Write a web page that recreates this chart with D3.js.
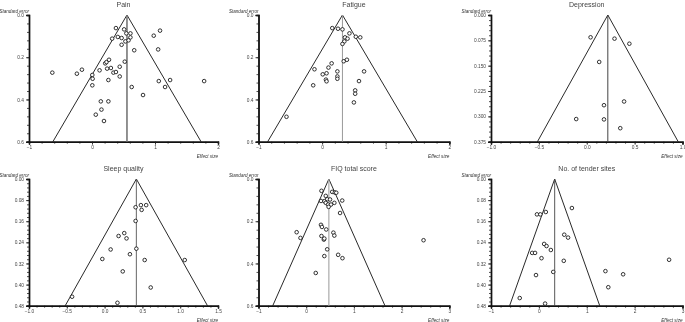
<!DOCTYPE html>
<html lang="en">
<head>
  <meta charset="UTF-8">
  <title>Funnel plots</title>
  <style>
    html, body { margin: 0; padding: 0; background: #fff; }
    svg { display: block; font-family: "Liberation Sans", Arial, sans-serif; filter: grayscale(1); }
  </style>
</head>
<body>
  <svg id="chart" width="685" height="322"></svg>

  <script src="https://d3js.org/d3.v7.min.js"></script>
  <script>
    // data (effect size, standard error)
    const titles = ['Pain', 'Fatigue', 'Depression', 'Sleep quality', 'FIQ total score', 'No. of tender sites'];
    const pooled = [0.555, 0.32, 0.22, 0.42, 0.475, 0.33];

    const painEffect = [-0.63,-0.24,-0.16,0.005,0.01,0.005,0.12,0.21,0.23,0.27,0.24,0.30,0.34,0.38,0.26,0.44,0.44,0.52,0.38,0.32,0.41,0.47,0.51,0.545,0.61,0.61,0.47,0.53,0.58,0.67,0.63,0.81,0.98,1.08,1.05,1.06,1.24,1.16,1.78,0.14,0.26,0.15,0.06,0.19];
    const painSE = [0.273,0.278,0.259,0.284,0.302,0.333,0.262,0.229,0.223,0.212,0.254,0.251,0.273,0.270,0.308,0.245,0.291,0.221,0.062,0.112,0.104,0.109,0.068,0.087,0.087,0.106,0.141,0.125,0.12,0.167,0.341,0.379,0.098,0.074,0.163,0.313,0.308,0.341,0.313,0.409,0.409,0.448,0.472,0.502];

    const fatigueEffect = [-0.56,-0.14,-0.12,0.01,0.07,0.06,0.07,0.10,0.15,0.24,0.24,0.24,0.34,0.39,0.16,0.25,0.32,0.43,0.36,0.40,0.35,0.32,0.53,0.60,0.66,0.58,0.52,0.52,0.50];
    const fatigueSE = [0.482,0.333,0.257,0.281,0.276,0.306,0.314,0.249,0.229,0.267,0.291,0.302,0.219,0.212,0.062,0.065,0.068,0.087,0.106,0.112,0.125,0.137,0.103,0.106,0.267,0.313,0.357,0.373,0.414];

    const depEffect = [0.04,0.29,0.445,0.13,0.39,0.18,-0.11,0.18,0.35];
    const depSE = [0.066,0.070,0.085,0.139,0.256,0.267,0.308,0.309,0.335];

    const sleepEffect = [0.41,0.48,0.55,0.49,0.41,0.185,0.26,0.29,0.08,0.42,0.335,-0.03,0.53,1.06,0.24,0.61,-0.43,0.17];
    const sleepSE = [0.107,0.099,0.099,0.117,0.159,0.216,0.205,0.225,0.267,0.264,0.285,0.303,0.307,0.307,0.350,0.411,0.446,0.469];

    const fiqEffect = [0.32,0.545,0.60,0.63,0.41,0.44,0.38,0.50,0.41,0.46,0.52,0.47,0.59,0.755,0.71,0.31,0.33,0.42,-0.20,-0.12,0.32,0.37,0.38,0.57,0.59,0.44,0.38,0.67,0.76,0.20,2.46,0.31];
    const fiqSE = [0.056,0.061,0.064,0.065,0.080,0.096,0.105,0.097,0.113,0.121,0.121,0.132,0.113,0.102,0.161,0.217,0.227,0.239,0.252,0.279,0.270,0.287,0.282,0.254,0.268,0.333,0.365,0.359,0.375,0.445,0.290,0.104];

    const tenderEffect = [-0.04,0.03,0.145,0.69,0.53,0.61,0.11,0.16,0.25,-0.14,-0.08,0.055,0.52,0.30,-0.06,1.39,1.76,2.72,1.45,-0.40,0.13];
    const tenderSE = [0.134,0.134,0.125,0.110,0.211,0.222,0.246,0.254,0.269,0.280,0.280,0.300,0.310,0.352,0.364,0.349,0.361,0.306,0.410,0.451,0.472];

    // axis ticks per panel
    const xTicks = [[-1,0,1,2], [-1,0,1,2], [-1,-0.5,0,0.5,1], [-1,-0.5,0,0.5,1,1.5], [-1,0,1,2,3], [-1,0,1,2,3]];
    const yTicks = [[0,0.2,0.4,0.6], [0,0.2,0.4,0.6], [0,0.075,0.15,0.225,0.3,0.375],
                    [0,0.08,0.16,0.24,0.32,0.40,0.48], [0,0.2,0.4,0.6], [0,0.08,0.16,0.24,0.32,0.40,0.48]];
    const xFormat = ['d', 'd', '.1f', '.1f', 'd', 'd'];
    const yFormat = ['.1f', '.1f', '.3f', '.2f', '.1f', '.2f'];

    const effects = [painEffect, fatigueEffect, depEffect, sleepEffect, fiqEffect, tenderEffect];
    const ses = [painSE, fatigueSE, depSE, sleepSE, fiqSE, tenderSE];

    // layout (pixel boxes of each plot area)
    const colX = [[29, 218], [258.5, 449.3], [491, 682.5]];
    const rowY = [[15, 141.7], [179, 305.7]];
    const pooledStyle = [
      {color: '#777', width: 1.6},
      {color: '#999', width: 1},
      {color: '#444', width: 1},
      {color: '#555', width: 0.9},
      {color: '#aaa', width: 1.2},
      {color: '#444', width: 0.9}
    ];

    const svg = d3.select('#chart');

    titles.forEach((title, i) => {
      const [x0, x1] = colX[i % 3];
      const [y0, y1] = rowY[Math.floor(i / 3)];
      const xt = xTicks[i], yt = yTicks[i];
      const maxSE = yt[yt.length - 1];

      const xScale = d3.scaleLinear().domain([xt[0], xt[xt.length - 1]]).range([x0, x1]);
      const yScale = d3.scaleLinear().domain([0, maxSE]).range([y0, y1]);

      const g = svg.append('g').attr('class', 'panel');

      // minor ticks: 5 subdivisions between labelled ticks
      const xStep = (xt[1] - xt[0]) / 5;
      const xMinor = d3.range(xt[0], xt[xt.length - 1] + xStep / 2, xStep);
      const yStep = (yt[1] - yt[0]) / 5;
      const yMinor = d3.range(0, maxSE + yStep / 2, yStep);

      const xAxisMinor = d3.axisBottom(xScale).tickValues(xMinor).tickSize(2).tickFormat('');
      const xAxis = d3.axisBottom(xScale).tickValues(xt).tickSize(3).tickPadding(1)
        .tickFormat(d3.format(xFormat[i]));
      const yAxisMinor = d3.axisLeft(yScale).tickValues(yMinor).tickSize(2).tickFormat('');
      const yAxis = d3.axisLeft(yScale).tickValues(yt).tickSize(3).tickPadding(2)
        .tickFormat(d3.format(yFormat[i]));

      const axes = [
        g.append('g').attr('transform', `translate(0,${y1})`).call(xAxisMinor),
        g.append('g').attr('transform', `translate(0,${y1})`).call(xAxis),
        g.append('g').attr('transform', `translate(${x0},0)`).call(yAxisMinor),
        g.append('g').attr('transform', `translate(${x0},0)`).call(yAxis)
      ];
      axes.forEach(a => {
        a.select('.domain').attr('stroke', '#111').attr('stroke-width', 1.4);
        a.selectAll('.tick line').attr('stroke', '#222').attr('stroke-width', 0.8);
        a.selectAll('.tick text').attr('font-size', 4.8).attr('fill', '#444')
          .attr('font-family', '"Liberation Sans", Arial, sans-serif');
      });

      // funnel (pseudo 95% limits) and pooled line
      const lo = pooled[i] - 1.96 * maxSE;
      const hi = pooled[i] + 1.96 * maxSE;
      g.append('path')
        .attr('d', d3.line()([
          [xScale(lo), yScale(maxSE)],
          [xScale(pooled[i]), yScale(0)],
          [xScale(hi), yScale(maxSE)]
        ]))
        .attr('fill', 'none').attr('stroke', '#111').attr('stroke-width', 0.9);

      g.append('line')
        .attr('x1', xScale(pooled[i])).attr('x2', xScale(pooled[i]))
        .attr('y1', yScale(0)).attr('y2', yScale(maxSE))
        .attr('stroke', pooledStyle[i].color).attr('stroke-width', pooledStyle[i].width);

      // studies
      g.selectAll('circle')
        .data(effects[i].map((e, k) => ({e: e, se: ses[i][k]})))
        .enter()
        .append('circle')
        .attr('cx', d => xScale(d.e))
        .attr('cy', d => yScale(d.se))
        .attr('r', 1.8)
        .attr('fill', '#fff')
        .attr('stroke', '#111')
        .attr('stroke-width', 0.85);

      // labels
      g.append('text')
        .attr('x', (x0 + x1) / 2).attr('y', y0 - 8.5)
        .attr('text-anchor', 'middle')
        .attr('font-size', 7).attr('fill', '#444')
        .text(title);

      g.append('text')
        .attr('x', x0).attr('y', y0 - 2.5)
        .attr('text-anchor', 'end')
        .attr('font-size', 4.6).attr('font-style', 'italic').attr('fill', '#333')
        .text('Standard error');

      g.append('text')
        .attr('x', x1).attr('y', y1 + 16.5)
        .attr('text-anchor', 'end')
        .attr('font-size', 4.6).attr('font-style', 'italic').attr('fill', '#333')
        .text('Effect size');
    });
  </script>
</body>
</html>
